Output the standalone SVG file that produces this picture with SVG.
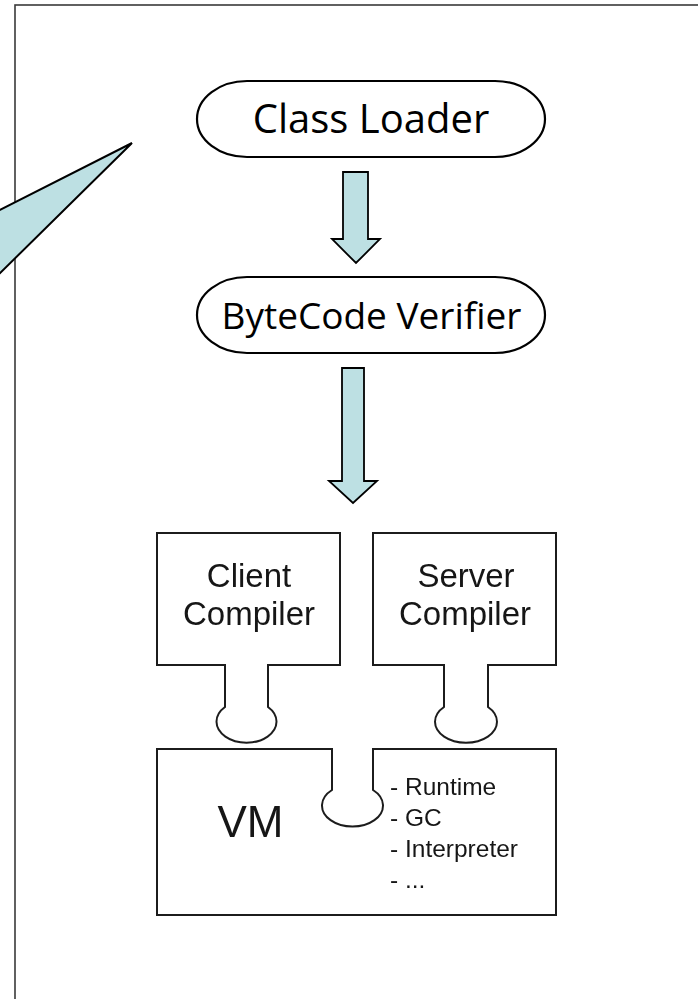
<svg xmlns="http://www.w3.org/2000/svg" width="698" height="999" viewBox="0 0 698 999">
  <defs>
    <style>
      .frame { fill: none; stroke: #3a3a3a; stroke-width: 1.6; }
      .callout { fill: #bde0e3; stroke: #000; stroke-width: 2; stroke-linejoin: miter; }
      .pill { fill: #fff; stroke: #000; stroke-width: 2.2; }
      .pill-text { font-family: "Open Sans", "DejaVu Sans", sans-serif; fill: #000; text-anchor: middle; }
      .flow { fill: #bde0e3; stroke: #000; stroke-width: 1.8; stroke-linejoin: miter; }
      .part { fill: #fff; stroke: #1e1e1e; stroke-width: 2; }
      .part-text { font-family: "Liberation Sans", Arial, sans-serif; fill: #161616; }
      .box-label { font-size: 33px; text-anchor: middle; }
      .list { font-size: 24.5px; }
    </style>
    <filter id="soft" x="-5%" y="-5%" width="110%" height="110%">
      <feGaussianBlur stdDeviation="0.45"/>
    </filter>
  </defs>

  <!-- page frame (right and bottom edges run off the page) -->
  <rect id="frame" class="frame" x="15" y="5" width="720" height="1010"/>

  <!-- speech callout pointer entering from the left -->
  <g id="callout">
    <polygon class="callout" points="132,143 -10,215 -10,283"/>
  </g>

  <g id="class-loader">
    <rect class="pill" x="197" y="81" width="348" height="76" rx="50" ry="38"/>
    <text class="pill-text" x="371" y="133" font-size="40">Class Loader</text>
  </g>

  <g id="bytecode-verifier">
    <rect class="pill" x="197" y="277" width="348" height="76" rx="50" ry="38"/>
    <text class="pill-text" x="371.5" y="329" font-size="37">ByteCode Verifier</text>
  </g>

  <g id="connectors">
    <path class="flow" d="M343,172 H368 V239 H380 L356,263 L332,239 H343 Z"/>
    <path class="flow" d="M342,368 H364 V481 H377 L353,503 L329,481 H342 Z"/>
  </g>

  <g filter="url(#soft)">
    <g id="client-compiler">
      <path class="part" d="M157,533 H340 V665 H268 V707 A30,21 0 1 1 225,707 V665 H157 Z"/>
      <text class="part-text box-label" x="249" y="587">Client</text>
      <text class="part-text box-label" x="249" y="625">Compiler</text>
    </g>

    <g id="server-compiler">
      <path class="part" d="M373,533 H556 V665 H488 V707 A31,21 0 1 1 444,707 V665 H373 Z"/>
      <text class="part-text box-label" x="466" y="587">Server</text>
      <text class="part-text box-label" x="465" y="625">Compiler</text>
    </g>

    <g id="vm">
      <path class="part" d="M157,749 H332 V790 A30.5,21 0 1 0 373,790 V749 H556 V915 H157 Z"/>
      <text class="part-text" x="250.5" y="837" font-size="44" text-anchor="middle">VM</text>
      <text class="part-text list" x="390" y="795">- Runtime</text>
      <text class="part-text list" x="390" y="826">- GC</text>
      <text class="part-text list" x="390" y="857">- Interpreter</text>
      <text class="part-text list" x="390" y="888">- ...</text>
    </g>
  </g>
</svg>
